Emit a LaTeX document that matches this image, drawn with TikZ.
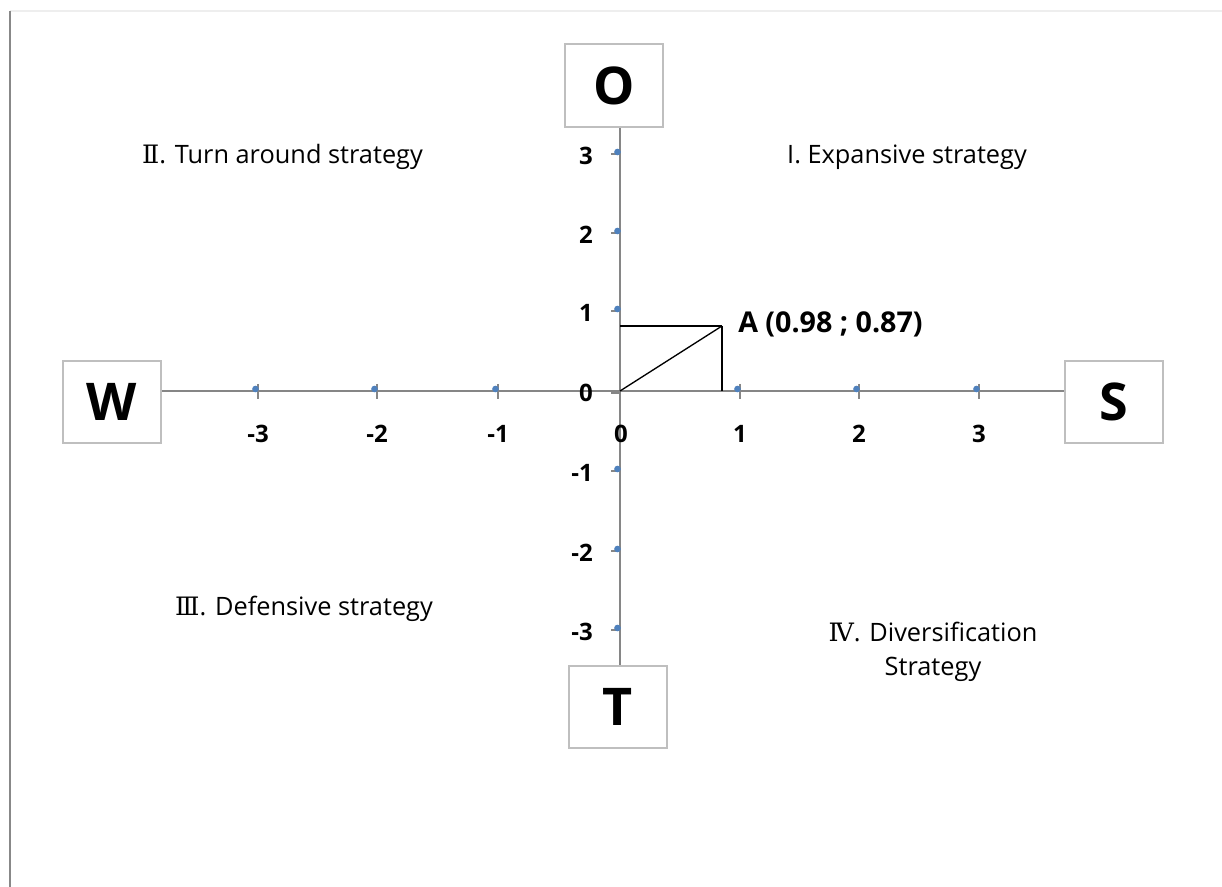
\documentclass[tikz,border=0pt]{standalone}
\usepackage{fontspec}
\setmainfont{Open Sans}
\newfontfamily\romfont{DejaVu Serif}
\definecolor{axisgray}{HTML}{868686}
\definecolor{boxgray}{HTML}{BFBFBF}
\definecolor{dotblue}{HTML}{4F81BD}
\definecolor{framegray}{HTML}{888888}
\definecolor{topgray}{HTML}{EEEEEE}
\begin{document}
\begin{tikzpicture}[x=0.75pt,y=-0.75pt,
  sbox/.style={draw=boxgray,line width=1.5pt,fill=white,minimum width=73.5pt,minimum height=62pt,inner sep=0pt,font=\fontsize{39}{44}\selectfont\bfseries},
  axisline/.style={draw=axisgray,line width=1.5pt},
  tickline/.style={draw=axisgray,line width=1pt},
  tdot/.style={circle,fill=dotblue,inner sep=0pt,minimum size=5pt},
  numlbl/.style={font=\fontsize{18}{21}\selectfont\bfseries,inner sep=0pt},
  qtext/.style={font=\fontsize{19}{25}\selectfont,inner sep=0pt,align=center},
  aline/.style={draw=black,line width=1pt}]
\useasboundingbox (0,0) rectangle (1222,887);
% frame
\draw[draw=topgray,line width=1pt] (10,11) -- (1222,11);
\draw[draw=framegray,line width=1.5pt] (10,11) -- (10,887);
\coordinate (origin) at (620,391);
% boxes
\node[sbox] (O) at (614,85.5) {O};
\node[sbox] (W) at (112,402) {W};
\node[sbox] (S) at (1114,402) {S};
\node[sbox] (T) at (618,707) {T};
% axes
\draw[axisline] (W.east |- origin) -- (S.west |- origin);
\draw[axisline] (O.south -| origin) -- (T.north -| origin);
% x ticks
\foreach \xx/\lab/\nm in {258/-3/xm3,377/-2/xm2,498/-1/xm1,740/1/xp1,859/2/xp2,979/3/xp3}{
  \draw[tickline] (\xx,384) -- (\xx,399);
  \node[tdot] (d\nm) at (\xx-2.5,389) {};
  \node[numlbl] (l\nm) at (\xx,434) {\lab};
}
\node[numlbl] (lx0) at (621,434) {0};
% y ticks
\foreach \yy/\lab/\nm in {154/3/yp3,233/2/yp2,311/1/yp1,471/-1/ym1,551/-2/ym2,630/-3/ym3}{
  \draw[tickline] (611,\yy) -- (620,\yy);
  \node[tdot] (d\nm) at (617.5,\yy-2) {};
  \node[numlbl,anchor=east] (l\nm) at (593,\yy+2) {\lab};
}
\draw[tickline] (611,393) -- (620,393);
\node[numlbl,anchor=east] (ly0) at (593,393) {0};
% point A
\coordinate (A) at (722,326);
\draw[aline] (origin) -- (A);
\draw[aline] (A) -- (A |- origin);
\draw[aline] (A) -- (A -| origin);
\node[font=\fontsize{21.5}{25}\selectfont\bfseries,inner sep=0pt,anchor=west] (Alab) at (738,324) {A (0.98 ; 0.87)};
% quadrant texts
\node[qtext] (q2) at (282.5,157) {{\romfont Ⅱ}. Turn around strategy};
\node[qtext] (q1) at (907,157) {I. Expansive strategy};
\node[qtext] (q3) at (304,609) {{\romfont Ⅲ}. Defensive strategy};
\node[qtext] (q4) at (933,652) {{\romfont Ⅳ}. Diversification\\Strategy};
\end{tikzpicture}
\end{document}
